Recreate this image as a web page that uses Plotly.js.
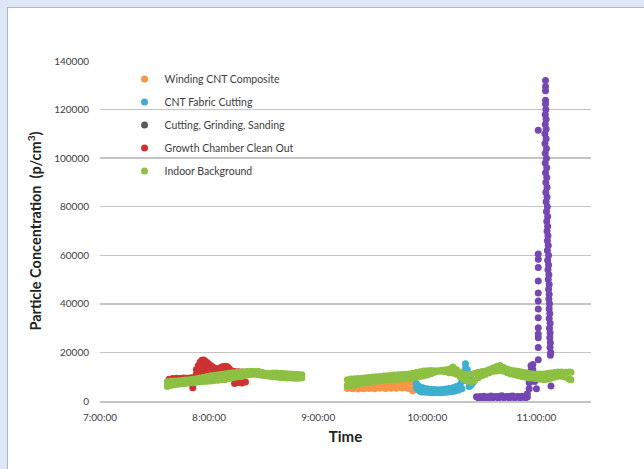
<!DOCTYPE html>
<html>
<head>
<meta charset="utf-8">
<script src="https://cdn.plot.ly/plotly-3.0.1.min.js"></script>
<style>
  html, body { margin: 0; padding: 0; }
  body { width: 644px; height: 469px; background: #dfe6f6; position: relative; overflow: hidden; }
  #frame { position: absolute; left: 7px; top: 7px; width: 637px; height: 462px; background: #ffffff;
           border-left: 1px solid #aeb6c6; border-top: 1px solid #aeb6c6; box-sizing: border-box; }
  #chart { position: absolute; left: 1px; top: 1px; width: 636px; height: 461px; }
</style>
</head>
<body>
<div id="frame"><div id="chart"></div></div>
<script>
// ---------- DATA ----------
// Indoor Background: time (every 2 min), upper and lower edge of the dense band
const bgTime = ["7:37","7:39","7:41","7:43","7:45","7:47","7:49","7:51","7:53","7:55","7:57","7:59",
  "8:01","8:03","8:05","8:07","8:09","8:11","8:13","8:15","8:17","8:19","8:21","8:23","8:25","8:27","8:29",
  "8:31","8:33","8:35","8:37","8:39","8:41","8:43","8:45","8:47","8:49","8:51",
  "9:16","9:18","9:20","9:22","9:24","9:26","9:28","9:30","9:32","9:34","9:36","9:38","9:40","9:42","9:44",
  "9:46","9:48","9:50","9:52","9:54","9:56","9:58","10:00","10:02","10:04","10:06","10:08","10:10","10:12",
  "10:14","10:16","10:18","10:20","10:22","10:24","10:26","10:28","10:30","10:32","10:34","10:36","10:38",
  "10:40","10:42","10:44","10:46","10:48","10:50","10:52","10:54","10:56","10:58","11:00","11:02","11:04",
  "11:06","11:08","11:10","11:12","11:14","11:16","11:18","11:19"];
const bgHigh = [7900,8100,8200,8300,8400,8600,8800,9000,9200,9500,9800,10100,
  10400,10600,10800,11000,11200,11400,11600,11700,11800,12000,12100,12200,12300,12200,11800,
  11400,11300,11500,11500,11400,11300,11200,11100,11000,10900,10800,
  8800,9100,9200,9300,9400,9600,9700,9900,10000,10100,10300,10400,10500,10700,10800,
  10900,11000,11100,11400,11700,12000,12400,12500,12600,12500,12500,12700,12900,13200,
  14000,13000,11800,11100,10900,11000,11400,11800,12100,12400,13000,13600,14200,
  14600,13800,13100,12700,12500,12200,11900,11600,11300,11100,11100,11100,11100,
  11300,11500,11700,11900,11900,11800,11900,11800];
const bgLow = [6000,6400,6700,6900,7100,7200,7400,7500,7700,7900,8000,8100,
  8200,8400,8500,8700,8900,9200,9600,9900,10100,10400,10700,10900,11000,10800,10600,
  10400,10200,10000,9900,9700,9600,9500,9500,9400,9400,9500,
  6200,6200,6600,7000,7300,7500,7700,8000,8200,8300,8500,8600,8700,8900,9000,
  9200,9300,9400,9700,9900,10100,10300,10700,11200,11800,12200,12200,12000,11600,
  11500,11000,10000,9000,8200,7800,8400,9600,10400,11000,11600,12100,12400,
  12500,12200,11600,11100,10800,10400,10100,9800,9500,9400,9200,9000,8700,
  9000,9400,9800,10200,10200,9800,9000,8700];

// Growth Chamber Clean Out
const growthTime = ["7:38","7:38","7:40","7:42","7:44","7:46","7:48","7:50","7:51","7:52","7:53","7:53",
  "7:54","7:55","7:55","7:56","7:56","7:56","7:57","7:57","7:58","7:58","7:59","7:59","8:00","8:01","8:01",
  "8:02","8:03","8:03","8:04","8:05","8:06","8:06","8:07","8:08","8:09","8:09","8:10","8:11","8:12","8:13",
  "8:14","8:14","8:16","8:16","8:18","8:18","8:20","8:20","8:22"];
const growthVal = [9000,7000,9300,9400,9300,9500,9400,9600,5500,9800,11000,13000,
  14500,16000,13500,16800,14000,11500,16900,14500,16400,13000,15700,12500,15000,14500,12000,
  14000,13500,11500,13200,13300,13600,11500,14000,14200,14300,12000,14100,13400,12600,12300,
  12100,7200,12000,7600,11900,7400,11800,7800,11700];

// Winding CNT Composite
const windTime = ["9:16","9:16","9:18","9:19","9:21","9:22","9:24","9:25","9:27","9:28","9:30","9:31",
  "9:33","9:34","9:36","9:37","9:39","9:40","9:42","9:43","9:45","9:46","9:48","9:49","9:51","9:51",
  "9:52","9:53","9:53"];
const windVal = [6500,5100,6600,5000,6800,4900,6900,5000,7000,5100,7100,5000,
  7200,5200,7300,5100,7400,5300,7500,5200,7600,5400,7700,5300,7800,4900,
  4200,6000,8000];

// CNT Fabric Cutting
const fabricTime = ["9:54","9:54","9:55","9:55","9:56","9:57","9:57","9:58","9:59","10:00","10:01","10:02",
  "10:03","10:04","10:05","10:06","10:07","10:08","10:09","10:10","10:11","10:12","10:13","10:14","10:15",
  "10:16","10:17","10:18","10:19","10:19","10:20","10:20","10:21","10:21","10:22","10:22","10:23","10:23",
  "10:24","10:24","10:25"];
const fabricVal = [7200,5500,4600,6300,4000,5600,3700,5300,3600,5000,3500,4800,
  3400,4700,3400,4600,3400,4700,3500,4900,3600,5100,3800,5500,4000,
  6000,4400,6700,5000,8000,9500,11500,13500,15300,13000,10500,8000,6000,
  9000,6500,7500];

// Cutting, Grinding, Sanding
const cutTime = ["10:27","10:28","10:29","10:30","10:31","10:32","10:33","10:34","10:35","10:36","10:37",
  "10:38","10:39","10:40","10:41","10:42","10:43","10:44","10:45","10:46","10:47","10:48","10:49","10:50",
  "10:51","10:52","10:53","10:54","10:55",
  "10:55","10:56","10:56","10:57","10:57","10:57","10:58","10:58","10:59","10:59","11:00",
  "11:01","11:01","11:01","11:01","11:01","11:01","11:01","11:01","11:01","11:01","11:01","11:01","11:01",
  "11:01",
  "11:05:00","11:05:00","11:05:00","11:05:00","11:05:00",
  "11:05:10","11:04:50","11:05:20","11:04:50","11:05:20","11:04:40","11:05:20","11:04:40","11:05:30",
  "11:04:50","11:05:30","11:04:50","11:05:40","11:05:00","11:05:40","11:05:10","11:05:50","11:05:10",
  "11:05:50","11:05:20","11:06:00","11:05:30","11:06:10","11:05:40","11:06:10","11:05:50","11:06:20",
  "11:06:00","11:06:30","11:06:00","11:06:40","11:06:10","11:06:40","11:06:20","11:06:50","11:06:30",
  "11:07:00","11:06:40","11:07:00","11:06:50","11:07:10","11:07:00","11:07:20","11:07:00","11:07:30",
  "11:07:10","11:07:30","11:07:20","11:07:40","11:07:30","11:07:50","11:07:40","11:08:00","11:07:50",
  "11:08:10","11:08:00","11:08:20","11:08:30","11:08:40","11:08:30"];
const cutVal = [1800,1300,1900,1200,2000,1300,1700,1400,2100,1300,1800,
  1900,1200,2000,2200,1300,1800,1900,1200,2000,2100,1300,1800,1900,
  1200,2000,1800,1300,1600,
  3000,5000,7500,10000,12500,14500,15000,13000,11000,8000,5000,
  17000,22000,26000,27600,30200,34300,37900,41200,44500,49400,55000,58400,60500,
  111500,
  132000,129500,127800,123800,122300,
  120000,118000,116000,114000,112000,110000,108000,106000,104000,
  102000,100000,98000,96000,94000,92000,90000,88000,86000,
  84000,82000,80000,78000,76000,74000,72000,70000,68000,
  66000,64000,62000,60000,58000,56000,54000,52000,50000,
  48000,46000,44000,42000,40000,38000,36000,34000,32000,
  30000,28000,26000,24000,22000,20000,18800,6200];

// Axis ticks
const yTicks = [0, 20000, 40000, 60000, 80000, 100000, 120000, 140000];
const xRange = ["7:00", "11:30"];

// Names and colours
const names = ["Winding CNT Composite", "CNT Fabric Cutting", "Cutting, Grinding, Sanding",
               "Growth Chamber Clean Out", "Indoor Background"];
const colors = {wind: "#F79646", fabric: "#3FAECF", cutLegend: "#5a5a5a", cut: "#7447B3",
                growth: "#CE3232", bg: "#8DC043"};

// ---------- BUILD ----------
function toDate(t) {
  const p = t.split(":");
  const h = p[0].padStart(2, "0");
  const s = p[2] || "00";
  return "2000-01-01 " + h + ":" + p[1] + ":" + s;
}
const D = arr => arr.map(toDate);
const MS = 7;

function pts(name, times, vals, color, extra) {
  return Object.assign({
    type: "scatter", mode: "markers", name: name,
    x: D(times), y: vals, legendgroup: name,
    marker: {color: color, size: MS, line: {width: 0}},
    hoverinfo: "x+y"
  }, extra || {});
}

const traces = [
  pts(names[0], windTime, windVal, colors.wind),
  pts(names[1], fabricTime, fabricVal, colors.fabric),
  {type: "scatter", mode: "markers", name: names[2], x: [null], y: [null], legendgroup: names[2],
   marker: {color: colors.cutLegend, size: MS}},
  pts(names[2], cutTime, cutVal, colors.cut, {showlegend: false}),
  pts(names[3], growthTime, growthVal, colors.growth),
  pts(names[4], bgTime.concat(bgTime), bgHigh.concat(bgLow), colors.bg)
];

const FONT = "Lato, 'Liberation Sans', Arial, sans-serif";
const layout = {
  width: 636, height: 461,
  margin: {l: 91, r: 54, t: 52, b: 69},
  paper_bgcolor: "#ffffff", plot_bgcolor: "#ffffff",
  font: {family: FONT, color: "#404040", size: 10},
  showlegend: true,
  legend: {x: 0.05, y: 0.99, xanchor: "left", yanchor: "top", bgcolor: "rgba(0,0,0,0)",
           font: {size: 10.5, color: "#404040", family: FONT}, tracegroupgap: 4,
           traceorder: "grouped", itemclick: false},
  xaxis: {
    type: "date", range: D(xRange), dtick: 3600000, tick0: toDate("7:00"),
    tickformat: "%-H:%M:%S", showgrid: false, zeroline: false, color: "#404040",
    showline: true, linecolor: "#c4c4c4", linewidth: 1.5,
    ticks: "", ticklabelstandoff: 6,
    tickfont: {size: 10, color: "#404040", family: FONT},
    title: {text: "Time", font: {size: 15, color: "#222222", family: FONT, weight: "bold"}, standoff: 10}
  },
  yaxis: {
    range: [0, 140000], tickvals: yTicks, tickformat: "d", color: "#404040",
    showgrid: true, gridcolor: "#c4c4c4", gridwidth: 1.4, zeroline: false,
    showline: false, ticks: "", ticklabelstandoff: 10,
    tickfont: {size: 10, color: "#404040", family: FONT},
    title: {text: "Particle Concentration  (p/cm<sup>3</sup>)",
            font: {size: 14.5, color: "#222222", family: FONT, weight: "bold"}, standoff: 9}
  }
};

Plotly.newPlot("chart", traces, layout, {displayModeBar: false, staticPlot: true});
</script>
</body>
</html>
